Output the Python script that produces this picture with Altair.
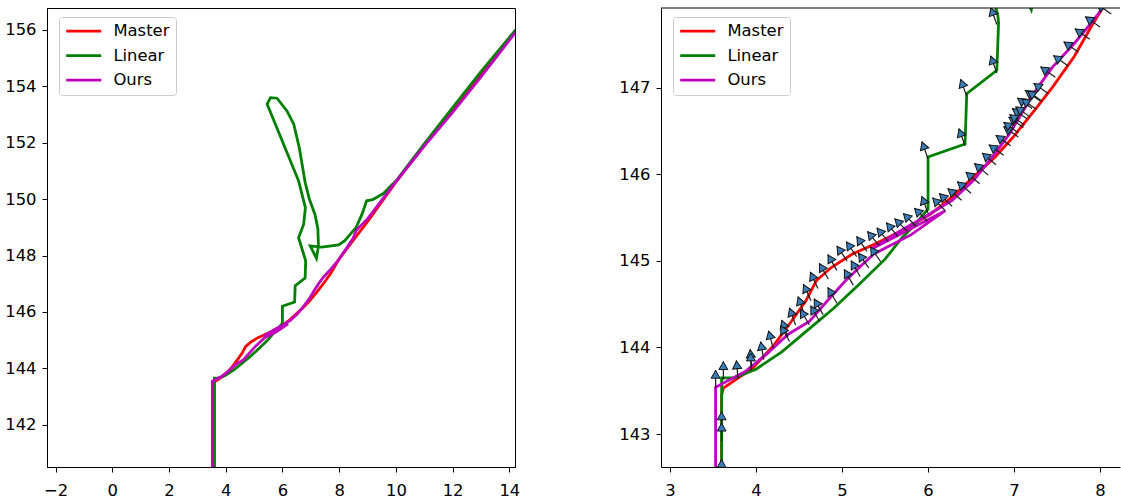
import math
import altair as alt
import pandas as pd

# ---- trajectories -------------------------------------------------------
series_names = ["Master", "Linear", "Ours"]
series_colors = ["#ff0000", "#008000", "#bf00bf"]

master_x = [3.60, 3.60, 3.62, 3.96, 4.21, 4.41, 4.58, 4.70, 4.87, 5.12, 5.37, 5.70,
            6.03, 6.28, 6.53, 6.78, 6.99, 7.24, 7.45, 7.70, 7.90, 8.03, 8.50,
            9.00, 10.00, 11.00, 12.00, 13.00, 14.30]
master_y = [140.30, 143.45, 143.53, 143.76, 144.03, 144.30, 144.54, 144.77, 144.92,
            145.08, 145.19, 145.35, 145.54, 145.74, 145.97, 146.20, 146.43, 146.74,
            147.01, 147.36, 147.71, 147.92, 148.55, 149.20, 150.60, 151.90, 153.12,
            154.42, 156.05]

linear_x = [3.60, 3.60, 3.75, 4.00, 4.30, 4.60, 4.90, 5.20, 5.50, 5.70, 5.85, 6.00,
            6.00, 6.43, 6.45, 6.80, 6.82, 6.81, 6.57, 6.75, 6.81, 6.57, 5.46, 5.58,
            5.81, 6.16, 6.40, 6.60, 6.80, 6.95, 7.15, 7.25, 7.27, 7.20, 6.98, 7.39,
            7.98, 8.20, 8.60, 8.80, 8.97, 9.18, 9.56, 10.05, 11.00, 12.00, 13.00,
            14.30]
linear_y = [140.30, 143.65, 143.65, 143.75, 143.95, 144.20, 144.45, 144.73, 145.02,
            145.27, 145.42, 145.60, 146.20, 146.35, 146.93, 147.20, 147.75, 147.85,
            148.63, 149.11, 149.70, 150.65, 153.37, 153.60, 153.58, 153.13, 152.66,
            151.80, 150.60, 150.00, 149.45, 148.95, 148.34, 147.90, 148.34, 148.30,
            148.38, 148.53, 149.00, 149.45, 149.94, 149.98, 150.20, 150.70, 151.96,
            153.25, 154.52, 156.10]

ours_x = [3.53, 3.53, 3.66, 3.87, 4.12, 4.37, 4.62, 4.83, 5.04, 5.24, 5.37, 5.80,
          6.20, 5.35, 5.70, 6.00, 6.28, 6.53, 6.78, 6.95, 7.11, 7.28, 7.45, 7.70,
          7.90, 8.03, 8.50, 8.60, 9.00, 10.00, 11.00, 12.00, 13.00, 14.30]
ours_y = [140.30, 143.54, 143.61, 143.72, 143.92, 144.15, 144.30, 144.54, 144.77,
          144.96, 145.08, 145.30, 145.58, 145.14, 145.36, 145.53, 145.70, 145.93,
          146.24, 146.47, 146.74, 147.01, 147.24, 147.51, 147.75, 147.92, 148.62,
          148.90, 149.30, 150.62, 151.88, 153.08, 154.34, 156.02]

# ---- heading arrows (tail position, tilt to the left of vertical in degrees)
arrow_x = [3.60, 3.60, 3.60, 3.53, 3.62, 3.79, 3.95, 3.94, 4.09, 4.20, 4.37, 4.46,
           4.56, 4.64, 4.72, 4.84, 4.94, 5.06, 5.17, 5.29, 5.43, 5.54, 5.65, 5.76,
           5.86, 5.99, 6.20, 6.28, 6.39, 6.50, 6.60, 6.70, 6.79, 6.88, 6.96, 7.05,
           7.11, 7.15, 7.21, 7.30, 7.48, 7.63, 7.75, 7.88, 8.00, 8.13,
           4.39, 4.62, 4.74, 4.78, 4.94, 5.13, 5.21, 5.31, 5.45,
           6.00, 6.00, 6.43, 6.45, 6.80, 6.80,
           7.05, 7.12, 7.19, 7.26, 7.33, 7.40]
arrow_y = [142.50, 142.92, 143.05, 143.53, 143.63, 143.64, 143.77, 143.73, 143.86,
           143.99, 144.12, 144.26, 144.39, 144.54, 144.68, 144.79, 144.89, 145.00,
           145.05, 145.11, 145.18, 145.22, 145.28, 145.34, 145.40, 145.46, 145.58,
           145.63, 145.70, 145.78, 145.89, 145.99, 146.11, 146.22, 146.33, 146.43,
           146.54, 146.64, 146.76, 146.85, 147.12, 147.25, 147.41, 147.56, 147.70,
           147.85,
           144.07, 144.26, 144.30, 144.38, 144.51, 144.72, 144.82, 144.92, 144.99,
           145.55, 146.18, 146.33, 146.90, 147.17, 147.73,
           146.48, 146.57, 146.66, 146.75, 146.84, 146.93]
arrow_tilt = [0, 0, 0, 0, 0, 5, 5, 0, 10, 15, 20, 20, 20, 25, 25, 30, 30, 35, 35, 35,
              40, 40, 40, 45, 45, 45, 45, 45, 50, 50, 50, 50, 50, 55, 55, 55, 55, 55,
              55, 55, 55, 55, 55, 55, 55, 55,
              30, 30, 30, 30, 30, 30, 30, 35, 35,
              20, 20, 20, 20, 20, 20,
              55, 55, 55, 55, 55, 55]

ARROW_LEN = 0.21
HEAD_BACK = 0.05

rows = []
for name, xs, ys in [("Master", master_x, master_y),
                     ("Linear", linear_x, linear_y),
                     ("Ours", ours_x, ours_y)]:
    for i, (x, y) in enumerate(zip(xs, ys)):
        rows.append({"series": name, "i": i, "x": x, "y": y})
lines = pd.DataFrame(rows)

arrow_rows = []
for tx, ty, a in zip(arrow_x, arrow_y, arrow_tilt):
    s, c = math.sin(math.radians(a)), math.cos(math.radians(a))
    arrow_rows.append({
        "tx": tx, "ty": ty,
        "hx": tx - ARROW_LEN * s, "hy": ty + ARROW_LEN * c,
        "cx": tx - (ARROW_LEN - HEAD_BACK) * s, "cy": ty + (ARROW_LEN - HEAD_BACK) * c,
        "rot": (360 - a) % 360,
    })
arrows = pd.DataFrame(arrow_rows)

FONT = "DejaVu Sans"
FS = 16.4


def x_axis(values):
    return alt.Axis(values=values, title=None, grid=False, format="d",
                    tickSize=5, tickColor="black", domainColor="black",
                    labelFont=FONT, labelFontSize=FS, labelColor="black",
                    labelPadding=10, labelFlush=False, labelOverlap=False)


def y_axis(values):
    return alt.Axis(values=values, title=None, grid=False, format="d",
                    tickSize=5, tickColor="black", domainColor="black",
                    labelFont=FONT, labelFontSize=FS, labelColor="black",
                    labelPadding=6, labelFlush=False, labelOverlap=False)


def legend():
    # short horizontal stroke drawn as a custom path so the rows stay compact
    return alt.Legend(title=None, orient="none", legendX=12, legendY=9,
                      fillColor="white", strokeColor="#cccccc", cornerRadius=3,
                      padding=6, symbolType="M-3.5,0H3.5", symbolStrokeWidth=2.8,
                      symbolSize=100, symbolOffset=10.5, labelFont=FONT,
                      labelFontSize=FS, labelColor="black", labelOffset=21.5,
                      rowPadding=7.5)


def panel(xdom, ydom, xticks, yticks):
    xs = alt.Scale(domain=xdom, nice=False, zero=False)
    ys = alt.Scale(domain=ydom, nice=False, zero=False)
    base = alt.Chart(lines).mark_line(strokeWidth=2.8, clip=True).encode(
        x=alt.X("x:Q", scale=xs, axis=x_axis(xticks)),
        y=alt.Y("y:Q", scale=ys, axis=y_axis(yticks)),
        color=alt.Color("series:N",
                        scale=alt.Scale(domain=series_names, range=series_colors),
                        sort=series_names, legend=legend()),
        order=alt.Order("i:Q"),
    )
    return base, xs, ys


RX = list(range(3, 9))
RY = list(range(143, 148))

# left: full trajectories
left_lines, _, _ = panel([-2.3, 14.2], [140.5, 156.78],
                         list(range(-2, 15, 2)), list(range(142, 157, 2)))
left = left_lines.properties(width=468, height=459)

# right: close-up with heading arrows
right_lines, rxs, rys = panel([2.895, 8.232], [142.62, 147.92], RX, RY)

shafts = alt.Chart(arrows).mark_rule(color="#1a1a1a", strokeWidth=1.2, clip=True).encode(
    x=alt.X("tx:Q", scale=rxs, axis=x_axis(RX)),
    y=alt.Y("ty:Q", scale=rys, axis=y_axis(RY)),
    x2="hx:Q", y2="hy:Q",
)
heads = alt.Chart(arrows).mark_point(
    shape="triangle-up", filled=True, fill="#3a7cb6", stroke="#111111",
    strokeWidth=1, size=80, opacity=1, clip=True,
).encode(
    x=alt.X("cx:Q", scale=rxs, axis=x_axis(RX)),
    y=alt.Y("cy:Q", scale=rys, axis=y_axis(RY)),
    angle=alt.Angle("rot:Q", scale=None),
)
top_spine = alt.Chart(pd.DataFrame({"k": [0]})).mark_rule(
    color="black", strokeWidth=1).encode(
    x=alt.value(0), x2=alt.value(459), y=alt.value(0))

right = alt.layer(right_lines, shafts, heads, top_spine).properties(
    width=459, height=459,
    view=alt.ViewBackground(stroke="transparent"),
)

chart = alt.hconcat(left, right, spacing=146, bounds="flush").resolve_scale(
    color="independent", x="independent", y="independent"
).resolve_legend(color="independent").properties(
    padding={"left": 4, "top": 7, "right": 0, "bottom": 0},
).configure_view(stroke="black", strokeWidth=1)

chart.save("out.html", embed_options={"renderer": "svg", "actions": False})
